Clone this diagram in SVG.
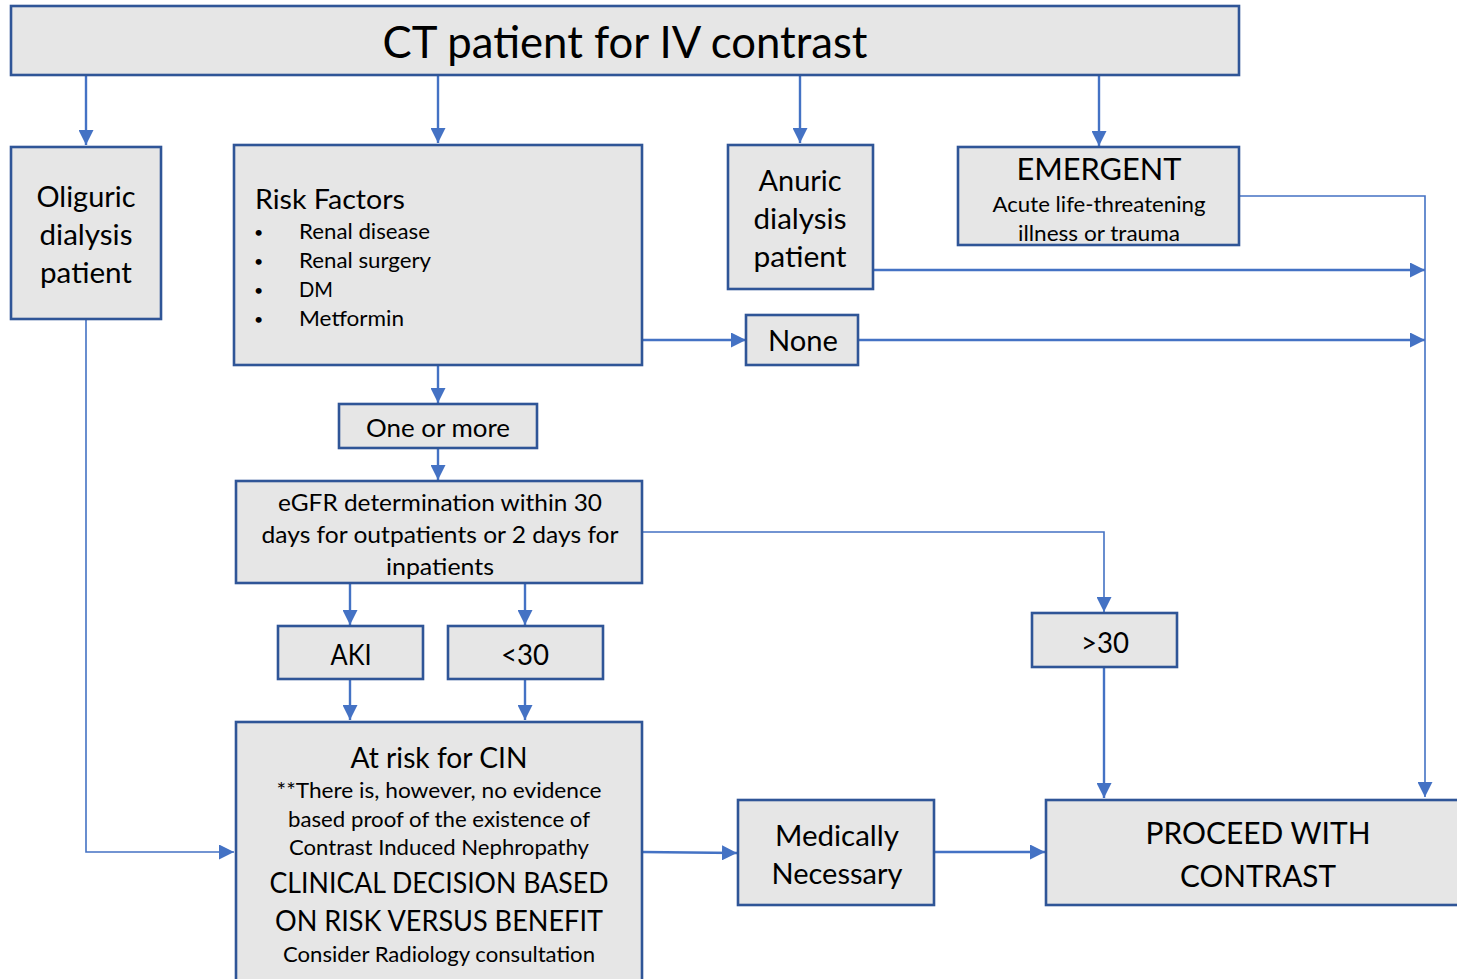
<svg xmlns="http://www.w3.org/2000/svg" width="1457" height="979" viewBox="0 0 1457 979">
<defs>
<style>
.box{fill:#E6E6E6;stroke:#2F5597;stroke-width:2.6}
.ln{fill:none;stroke:#4472C4;stroke-width:2.4}
.thin{fill:none;stroke:#4472C4;stroke-width:1.6}
text{font-family:Lato,"Open Sans","Liberation Sans",sans-serif;fill:#000}
.c{text-anchor:middle}
.b{font-size:16px}
</style>
<marker id="ah" viewBox="0 0 10 10" refX="10" refY="5" markerWidth="15" markerHeight="15" markerUnits="userSpaceOnUse" orient="auto">
<path d="M0,0 L10,5 L0,10 z" fill="#4472C4"/>
</marker>
</defs>
<rect width="1457" height="979" fill="#fff"/>
<g id="connectors">
<path class="ln" d="M86,75 V145" marker-end="url(#ah)"/>
<path class="ln" d="M438,75 V143" marker-end="url(#ah)"/>
<path class="ln" d="M800,75 V143" marker-end="url(#ah)"/>
<path class="ln" d="M1099,75 V146" marker-end="url(#ah)"/>
<path class="thin" d="M1239,196 H1425 V797" marker-end="url(#ah)"/>
<path class="ln" d="M873,270 H1425" marker-end="url(#ah)"/>
<path class="ln" d="M642,340 H746" marker-end="url(#ah)"/>
<path class="ln" d="M858,340 H1425" marker-end="url(#ah)"/>
<path class="ln" d="M438,365 V403" marker-end="url(#ah)"/>
<path class="ln" d="M438,448 V480" marker-end="url(#ah)"/>
<path class="thin" d="M642,532 H1104 V612" marker-end="url(#ah)"/>
<path class="ln" d="M1104,667 V798" marker-end="url(#ah)"/>
<path class="ln" d="M350,583 V625" marker-end="url(#ah)"/>
<path class="ln" d="M525,583 V625" marker-end="url(#ah)"/>
<path class="ln" d="M350,679 V720" marker-end="url(#ah)"/>
<path class="ln" d="M525,679 V720" marker-end="url(#ah)"/>
<path class="thin" d="M86,319 V852 H234" marker-end="url(#ah)"/>
<path class="ln" d="M642,852 L737,853" marker-end="url(#ah)"/>
<path class="ln" d="M934,852 H1045" marker-end="url(#ah)"/>
</g>
<g id="top">
<rect class="box" x="11" y="6" width="1228" height="69"/>
<text class="c" x="625" y="58" font-size="44" textLength="485" lengthAdjust="spacingAndGlyphs">CT patient for IV contrast</text>
</g>
<g id="oliguric">
<rect class="box" x="11" y="147" width="150" height="172"/>
<text class="c" x="86" y="207" font-size="29" textLength="99" lengthAdjust="spacingAndGlyphs">Oliguric</text>
<text class="c" x="86" y="245" font-size="29" textLength="93" lengthAdjust="spacingAndGlyphs">dialysis</text>
<text class="c" x="86" y="283" font-size="29" textLength="92" lengthAdjust="spacingAndGlyphs">patient</text>
</g>
<g id="risk">
<rect class="box" x="234" y="145" width="408" height="220"/>
<text x="255" y="209" font-size="27" textLength="150" lengthAdjust="spacingAndGlyphs">Risk Factors</text>
<g font-size="21">
<text class="b" x="254" y="238">•</text><text x="299" y="239" textLength="131" lengthAdjust="spacingAndGlyphs">Renal disease</text>
<text class="b" x="254" y="267">•</text><text x="299" y="268" textLength="132" lengthAdjust="spacingAndGlyphs">Renal surgery</text>
<text class="b" x="254" y="296">•</text><text x="299" y="297" textLength="34" lengthAdjust="spacingAndGlyphs">DM</text>
<text class="b" x="254" y="325">•</text><text x="299" y="326" textLength="105" lengthAdjust="spacingAndGlyphs">Metformin</text>
</g>
</g>
<g id="anuric">
<rect class="box" x="728" y="145" width="145" height="144"/>
<text class="c" x="800" y="191" font-size="29" textLength="83" lengthAdjust="spacingAndGlyphs">Anuric</text>
<text class="c" x="800" y="229" font-size="29" textLength="93" lengthAdjust="spacingAndGlyphs">dialysis</text>
<text class="c" x="800" y="267" font-size="29" textLength="93" lengthAdjust="spacingAndGlyphs">patient</text>
</g>
<g id="emergent">
<rect class="box" x="958" y="147" width="281" height="98"/>
<text class="c" x="1099" y="180" font-size="31" textLength="165" lengthAdjust="spacingAndGlyphs">EMERGENT</text>
<text class="c" x="1099" y="212" font-size="21" textLength="213" lengthAdjust="spacingAndGlyphs">Acute life-threatening</text>
<text class="c" x="1099" y="241" font-size="21" textLength="162" lengthAdjust="spacingAndGlyphs">illness or trauma</text>
</g>
<g id="none">
<rect class="box" x="746" y="315" width="112" height="50"/>
<text class="c" x="803" y="351" font-size="28" textLength="70" lengthAdjust="spacingAndGlyphs">None</text>
</g>
<g id="one-or-more">
<rect class="box" x="339" y="404" width="198" height="44"/>
<text class="c" x="438" y="437" font-size="25" textLength="144" lengthAdjust="spacingAndGlyphs">One or more</text>
</g>
<g id="egfr">
<rect class="box" x="236" y="481" width="406" height="102"/>
<text class="c" x="440" y="511" font-size="24" textLength="324" lengthAdjust="spacingAndGlyphs">eGFR determination within 30</text>
<text class="c" x="440" y="543" font-size="24" textLength="357" lengthAdjust="spacingAndGlyphs">days for outpatients or 2 days for</text>
<text class="c" x="440" y="575" font-size="24" textLength="108" lengthAdjust="spacingAndGlyphs">inpatients</text>
</g>
<g id="gt30">
<rect class="box" x="1032" y="613" width="145" height="54"/>
<text class="c" x="1105" y="653" font-size="29" textLength="48" lengthAdjust="spacingAndGlyphs">&gt;30</text>
</g>
<g id="aki">
<rect class="box" x="278" y="626" width="145" height="53"/>
<text class="c" x="351" y="665" font-size="28" textLength="41" lengthAdjust="spacingAndGlyphs">AKI</text>
</g>
<g id="lt30">
<rect class="box" x="448" y="626" width="155" height="53"/>
<text class="c" x="525" y="665" font-size="28" textLength="48" lengthAdjust="spacingAndGlyphs">&lt;30</text>
</g>
<g id="cin">
<rect class="box" x="236" y="722" width="406" height="270"/>
<text class="c" x="439" y="768" font-size="28" textLength="177" lengthAdjust="spacingAndGlyphs">At risk for CIN</text>
<text class="c" x="439" y="798" font-size="21" textLength="325" lengthAdjust="spacingAndGlyphs">**There is, however, no evidence</text>
<text class="c" x="439" y="827" font-size="21" textLength="302" lengthAdjust="spacingAndGlyphs">based proof of the existence of</text>
<text class="c" x="439" y="855" font-size="21" textLength="300" lengthAdjust="spacingAndGlyphs">Contrast Induced Nephropathy</text>
<text class="c" x="439" y="893" font-size="28" textLength="339" lengthAdjust="spacingAndGlyphs">CLINICAL DECISION BASED</text>
<text class="c" x="439" y="931" font-size="28" textLength="328" lengthAdjust="spacingAndGlyphs">ON RISK VERSUS BENEFIT</text>
<text class="c" x="439" y="962" font-size="21" textLength="312" lengthAdjust="spacingAndGlyphs">Consider Radiology consultation</text>
</g>
<g id="medically">
<rect class="box" x="738" y="800" width="196" height="105"/>
<text class="c" x="837" y="846" font-size="29" textLength="124" lengthAdjust="spacingAndGlyphs">Medically</text>
<text class="c" x="837" y="884" font-size="29" textLength="131" lengthAdjust="spacingAndGlyphs">Necessary</text>
</g>
<g id="proceed">
<rect class="box" x="1046" y="800" width="420" height="105"/>
<text class="c" x="1258" y="844" font-size="30" textLength="225" lengthAdjust="spacingAndGlyphs">PROCEED WITH</text>
<text class="c" x="1258" y="887" font-size="30" textLength="156" lengthAdjust="spacingAndGlyphs">CONTRAST</text>
</g>
</svg>
